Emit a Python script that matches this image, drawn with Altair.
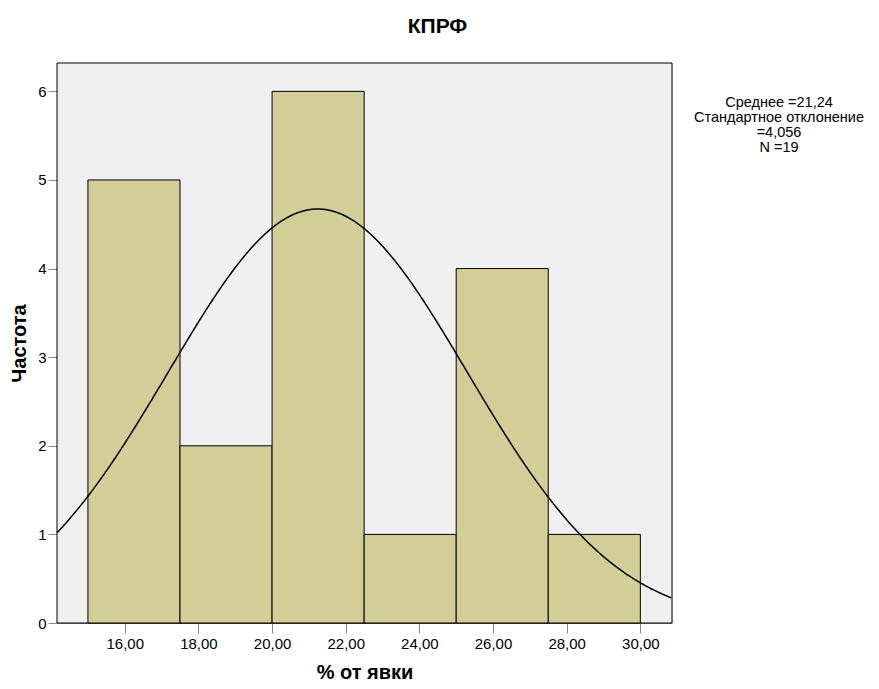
import altair as alt
import pandas as pd

# Histogram bins
bin_start = [15.0, 17.5, 20.0, 22.5, 25.0, 27.5]
bin_end = [17.5, 20.0, 22.5, 25.0, 27.5, 30.0]
counts = [5, 2, 6, 1, 4, 1]

# Stated statistics
mean_val = 21.24
sd_val = 4.056
n_val = 19
bin_width = 2.5

x_ticks = [16, 18, 20, 22, 24, 26, 28, 30]
y_ticks = [0, 1, 2, 3, 4, 5, 6]
x_domain = [14.16, 30.86]
y_domain = [0, 6.32]

FONT = "Liberation Sans"

bars_df = pd.DataFrame({"start": bin_start, "end": bin_end, "count": counts})

xs = alt.Scale(domain=x_domain, nice=False, zero=False)
ys = alt.Scale(domain=y_domain, nice=False, zero=False)

x_axis = alt.Axis(
    values=x_ticks, format=".2f", labelExpr="replace(datum.label, '.', ',')",
    title="% от явки", titleFontSize=20, titleFontWeight="bold", titlePadding=11,
    tickSize=10, labelPadding=3, labelFontSize=15, grid=False,
)
y_axis = alt.Axis(
    values=y_ticks, format="d", title="Частота", titleFontSize=20,
    titleFontWeight="bold", titlePadding=8, tickSize=9, labelPadding=2,
    labelFontSize=15, grid=False,
)

bg = alt.Chart(pd.DataFrame({"a": [0]})).mark_rect(fill="#f0f0f0", stroke="black", strokeWidth=1).encode(
    x=alt.value(0), x2=alt.value(615), y=alt.value(0), y2=alt.value(560)
)

bars = alt.Chart(bars_df).mark_rect(
    fill="#d3ce97", stroke="black", strokeWidth=1
).encode(
    x=alt.X("start:Q", scale=xs, axis=x_axis),
    x2="end:Q",
    y=alt.Y("count:Q", scale=ys, axis=y_axis),
    y2=alt.datum(0),
)

scale_factor = n_val * bin_width
curve = alt.Chart(alt.sequence(x_domain[0], x_domain[1] + 0.001, 0.04, as_="x")).transform_calculate(
    y=f"{scale_factor} / ({sd_val} * sqrt(2*PI)) * exp(-0.5 * pow((datum.x - {mean_val}) / {sd_val}, 2))"
).mark_line(color="black", strokeWidth=1.5).encode(
    x=alt.X("x:Q", scale=xs),
    y=alt.Y("y:Q", scale=ys),
)

stats_text = "Среднее =21,24\nСтандартное отклонение\n=4,056\nN =19"
stats_df = pd.DataFrame({"label": [stats_text]})
stats = alt.Chart(stats_df).mark_text(
    lineBreak="\n", align="center", baseline="middle", fontSize=14.5,
    lineHeight=15, font=FONT, color="black",
).encode(
    text="label:N",
    x=alt.value(722),
    y=alt.value(40),
)

chart = alt.layer(bg, bars, curve, stats).properties(
    width=615,
    height=560,
    autosize=alt.AutoSizeParams(type="none"),
    padding={"left": 49, "top": 55, "right": 199, "bottom": 58},
    title=alt.TitleParams(
        "КПРФ", fontSize=21, fontWeight="bold", font=FONT, anchor="middle",
        dx=73, offset=26, color="black",
    ),
).configure_view(
    fill="#f0f0f0", stroke="black", strokeWidth=1
).configure_axis(
    domainColor="black", tickColor="black", labelColor="black", titleColor="black",
    labelFont=FONT, titleFont=FONT, domainWidth=1, tickWidth=1,
).configure(background="white")

chart.save("out.html", embed_options={"renderer": "svg", "actions": False})
